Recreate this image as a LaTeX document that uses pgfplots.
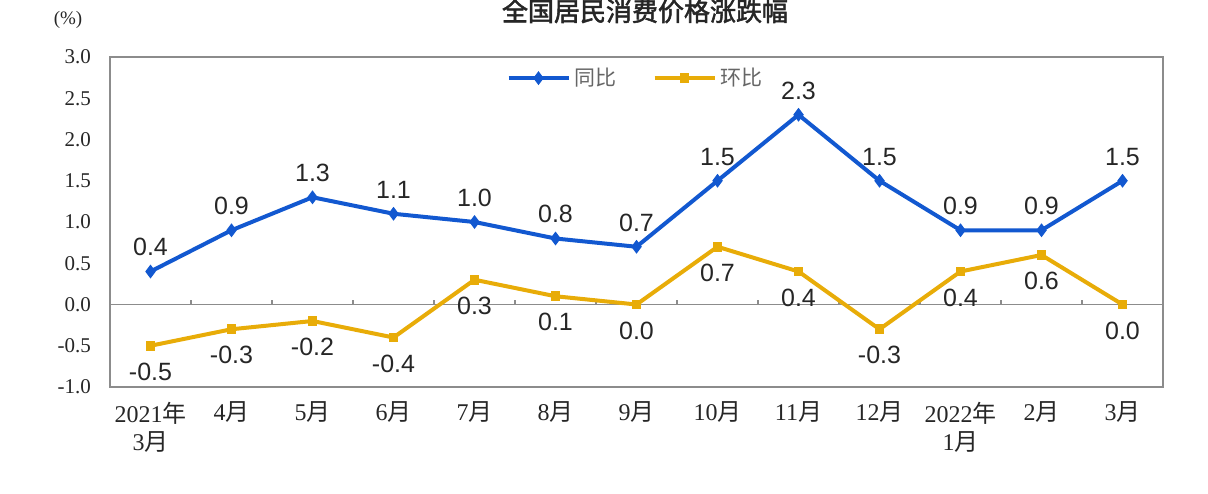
\documentclass[border=0pt]{standalone}
\usepackage{pgfplots}
\pgfplotsset{compat=1.18}
\usepackage{pgfplotstable}
\usepackage{fontspec}
\setmainfont{Liberation Serif}
\newfontfamily\arial{Liberation Sans}
\newfontfamily\cjk{Noto Sans CJK SC}
\newfontfamily\cjkt[FakeBold=2]{Noto Sans CJK SC}
\definecolor{tongbi}{RGB}{18,88,208}
\definecolor{huanbi}{RGB}{232,172,8}
\definecolor{framegray}{RGB}{140,140,140}

\pgfplotstableread{
x y label
0 0.4 0.4
1 0.9 0.9
2 1.3 1.3
3 1.1 1.1
4 1.0 1.0
5 0.8 0.8
6 0.7 0.7
7 1.5 1.5
8 2.3 2.3
9 1.5 1.5
10 0.9 0.9
11 0.9 0.9
12 1.5 1.5
}\tongbidata

\pgfplotstableread{
x y label
0 -0.5 -0.5
1 -0.3 -0.3
2 -0.2 -0.2
3 -0.4 -0.4
4 0.3 0.3
5 0.1 0.1
6 0.0 0.0
7 0.7 0.7
8 0.4 0.4
9 -0.3 -0.3
10 0.4 0.4
11 0.6 0.6
12 0.0 0.0
}\huanbidata

\begin{document}
\begin{tikzpicture}
\path[use as bounding box] (0,0) rectangle (604pt,246.5pt);
\node[font=\cjkt\fontsize{13}{15}\selectfont, text=black!85] at (322.5pt,241pt) {全国居民消费价格涨跌幅};
\node[font=\fontsize{9.5}{11}\selectfont, text=black!85] at (34pt,236.5pt) {(\%)};
\begin{axis}[
  at={(55pt,53pt)}, anchor=south west,
  scale only axis,
  width=526.5pt, height=165pt,
  xmin=-0.5, xmax=12.5,
  ymin=-1, ymax=3,
  ytick={-1,-0.5,0,0.5,1,1.5,2,2.5,3},
  /pgf/number format/assume math mode=true,
  yticklabel style={/pgf/number format/fixed, /pgf/number format/fixed zerofill, /pgf/number format/precision=1, font=\fontsize{10.5}{12}\selectfont, text=black!85, xshift=-6pt},
  xtick={0,...,12},
  xticklabels={2021{\cjk 年}\\3{\cjk 月},4{\cjk 月},5{\cjk 月},6{\cjk 月},7{\cjk 月},8{\cjk 月},9{\cjk 月},10{\cjk 月},11{\cjk 月},12{\cjk 月},2022{\cjk 年}\\1{\cjk 月},2{\cjk 月},3{\cjk 月}},
  xticklabel style={align=center, font=\fontsize{12}{14}\selectfont, text=black!85, yshift=-4pt, anchor=north},
  major tick length=0pt,
  axis line style={framegray, line width=1pt},
  legend style={at={(0.5,0.936)}, anchor=center, draw=none, fill=none,
    font=\cjk\fontsize{10.5}{12}\selectfont, text=black!60,
    /tikz/every even column/.append style={column sep=16pt}},
  legend columns=2,
  legend image code/.code={\draw[mark repeat=2,mark phase=2,#1] plot coordinates {(0pt,0pt) (15pt,0pt) (30pt,0pt)};},
  clip=false,
]
\draw[framegray, line width=0.8pt] (axis cs:-0.5,0) -- (axis cs:12.5,0);
\pgfplotsinvokeforeach{0,...,11}{
  \draw[framegray, line width=0.6pt] (axis cs:#1+0.5,0) -- ([yshift=2.5pt]axis cs:#1+0.5,0);
}
\addplot[tongbi, line width=2pt, mark=diamond*, mark size=3pt, mark options={line width=0.6pt},
  nodes near coords, point meta=explicit symbolic,
  every node near coord/.append style={font=\arial\fontsize{12.5}{14}\selectfont, text=black!85, anchor=south, yshift=4pt}]
  table[x=x, y=y, meta=label] {\tongbidata};
\addlegendentry{同比}
\addplot[huanbi, line width=2pt, mark=square*, mark size=2.1pt, mark options={line width=0.6pt},
  nodes near coords, point meta=explicit symbolic,
  every node near coord/.append style={font=\arial\fontsize{12.5}{14}\selectfont, text=black!85, anchor=north, yshift=-5pt}]
  table[x=x, y=y, meta=label] {\huanbidata};
\addlegendentry{环比}
\end{axis}
\end{tikzpicture}
\end{document}
